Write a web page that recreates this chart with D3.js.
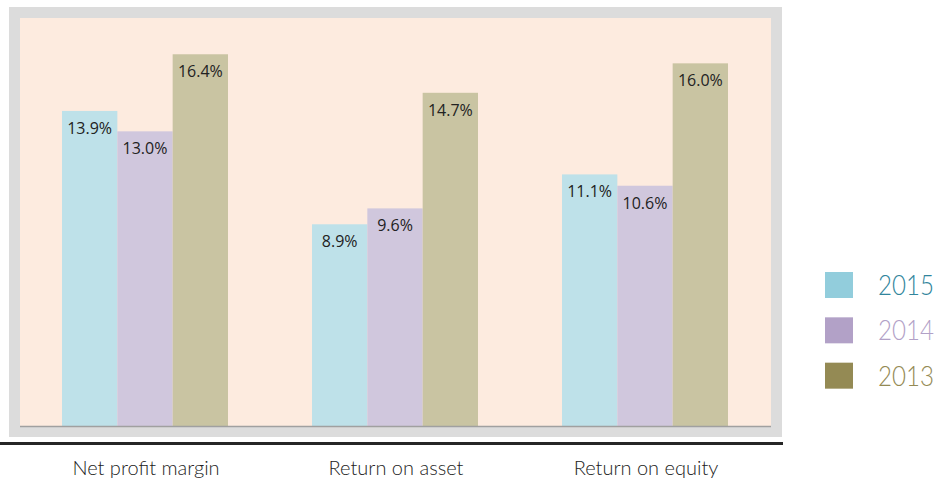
<!DOCTYPE html>
<html>
<head>
<meta charset="utf-8">
<script src="https://cdn.jsdelivr.net/npm/d3@7"></script>
<style>
  body { margin: 0; background: #fff; }
</style>
</head>
<body>
<div id="chart"></div>
<script>
// chart data
var categories = ["Net profit margin", "Return on asset", "Return on equity"];
var years = ["2015", "2014", "2013"];
var values2015 = [13.9, 8.9, 11.1];
var values2014 = [13.0, 9.6, 10.6];
var values2013 = [16.4, 14.7, 16.0];

var barColors = {"2015": "#bee1e9", "2014": "#d0c7dd", "2013": "#c9c4a2"};
var legendColors = {"2015": "#92cddc", "2014": "#b2a1c7", "2013": "#948a54"};
var legendText = {"2015": "#31859c", "2014": "#b2a1c7", "2013": "#948a54"};

var seriesValues = {"2015": values2015, "2014": values2014, "2013": values2013};
var data = categories.map(function (c, i) {
  return {cat: c, vals: years.map(function (y) { return {year: y, v: seriesValues[y][i]}; })};
});

var W = 940, H = 487;
var plot = {left: 20, top: 18, right: 771, bottom: 426};

var svg = d3.select("#chart").append("svg")
  .attr("width", W)
  .attr("height", H);

// grey frame + peach plot area
svg.append("rect")
  .attr("x", 9).attr("y", 7)
  .attr("width", 773).attr("height", 430)
  .attr("fill", "#dcdcdc");
svg.append("rect")
  .attr("x", plot.left).attr("y", plot.top)
  .attr("width", plot.right - plot.left).attr("height", plot.bottom - plot.top)
  .attr("fill", "#fdebdf");

var x0 = d3.scaleBand()
  .domain(categories)
  .range([plot.left, plot.right - 1])
  .paddingInner(0.336)
  .paddingOuter(0.168);

var x1 = d3.scaleBand()
  .domain(years)
  .range([0, x0.bandwidth()]);

var y = d3.scaleLinear()
  .domain([0, 18])
  .range([plot.bottom, plot.top]);

var groups = svg.append("g")
  .selectAll("g")
  .data(data)
  .enter()
  .append("g")
  .attr("transform", function (d) { return "translate(" + x0(d.cat) + ",0)"; });

groups.selectAll("rect")
  .data(function (d) { return d.vals; })
  .enter()
  .append("rect")
  .attr("x", function (d) { return x1(d.year); })
  .attr("y", function (d) { return y(d.v); })
  .attr("width", x1.bandwidth())
  .attr("height", function (d) { return plot.bottom - y(d.v); })
  .attr("fill", function (d) { return barColors[d.year]; });

groups.selectAll("text")
  .data(function (d) { return d.vals; })
  .enter()
  .append("text")
  .attr("x", function (d) { return x1(d.year) + x1.bandwidth() / 2; })
  .attr("y", function (d) { return y(d.v) + 23; })
  .attr("text-anchor", "middle")
  .style("font-family", "'Open Sans', sans-serif")
  .style("font-size", "16px")
  .style("fill", "#222")
  .text(function (d) { return d.v.toFixed(1) + "%"; });

// axis line at bottom of plot
svg.append("line")
  .attr("x1", plot.left).attr("x2", plot.right)
  .attr("y1", plot.bottom + 0.5).attr("y2", plot.bottom + 0.5)
  .attr("stroke", "#a0a0a0")
  .attr("stroke-width", 1.5);

// heavy dark rule below frame
svg.append("rect")
  .attr("x", 0).attr("y", 442)
  .attr("width", 783).attr("height", 3)
  .attr("fill", "#262626");

// category labels
svg.append("g")
  .selectAll("text")
  .data(categories)
  .enter()
  .append("text")
  .attr("x", function (d) { return x0(d) + x0.bandwidth() / 2 + 1; })
  .attr("y", 475)
  .attr("text-anchor", "middle")
  .style("font-family", "Lato, sans-serif")
  .style("font-weight", 300)
  .style("font-size", "20px")
  .style("fill", "#222")
  .text(function (d) { return d; });

// legend
var legendY = d3.scaleBand()
  .domain(years)
  .range([272, 408]);

var legend = svg.append("g")
  .selectAll("g")
  .data(years)
  .enter()
  .append("g")
  .attr("transform", function (d) { return "translate(825," + legendY(d) + ")"; });

legend.append("rect")
  .attr("width", 28)
  .attr("height", 26)
  .attr("fill", function (d) { return legendColors[d]; });

legend.append("text")
  .attr("x", 53)
  .attr("y", 23)
  .attr("textLength", 56)
  .attr("lengthAdjust", "spacingAndGlyphs")
  .style("font-family", "Lato, sans-serif")
  .style("font-weight", 300)
  .style("font-size", "27px")
  .style("fill", function (d) { return legendText[d]; })
  .text(function (d) { return d; });
</script>
</body>
</html>
